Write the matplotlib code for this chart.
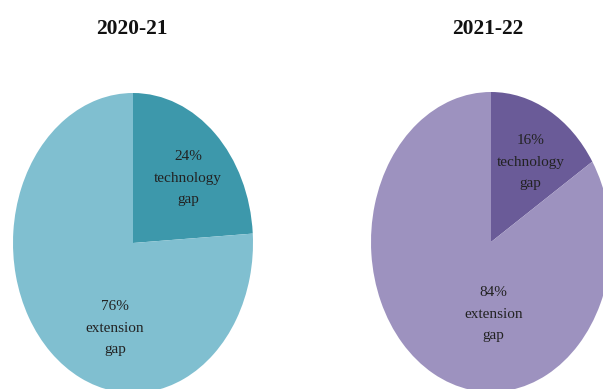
import matplotlib.pyplot as plt

# share of yield gap, per year
years = ["2020-21", "2021-22"]
gap_types = ["technology", "extension"]
shares_2020 = [24, 76]
shares_2021 = [16, 84]

colors = [["#3d98ab", "#80bfd0"], ["#6a5b98", "#9d92bf"]]
# label positions inside each pie (unit-ellipse coordinates)
label_pos = [[(0.46, 0.43), (-0.15, -0.57)], [(0.33, 0.53), (0.02, -0.48)]]
# ellipse boxes in pixels: left, top, width, height
boxes = [(13, 93, 240, 300), (371, 92, 240, 300)]
title_x = [132, 488]

W, H = 603, 389
fig = plt.figure(figsize=(W / 100, H / 100), dpi=100)
fig.patch.set_facecolor("white")

for i, shares in enumerate([shares_2020, shares_2021]):
    l, t, w, h = boxes[i]
    ax = fig.add_axes([l / W, (H - t - h) / H, w / W, h / H])
    ax.pie(shares, colors=colors[i], startangle=90, counterclock=False,
           radius=1, wedgeprops=dict(linewidth=0))
    ax.set_aspect("auto")
    ax.set_xlim(-1, 1)
    ax.set_ylim(-1, 1)
    ax.axis("off")
    for j, v in enumerate(shares):
        x, y = label_pos[i][j]
        ax.text(x, y, f"{v}%\n{gap_types[j]}\ngap", ha="center", va="center",
                fontsize=11, family="Liberation Serif", color="#222222",
                linespacing=1.85)
    fig.text(title_x[i] / W, 1 - 29 / H, years[i], ha="center", va="center",
             fontsize=15.5, fontweight="bold", family="Liberation Serif",
             color="#111111")

fig.savefig("out.png", dpi=100)
